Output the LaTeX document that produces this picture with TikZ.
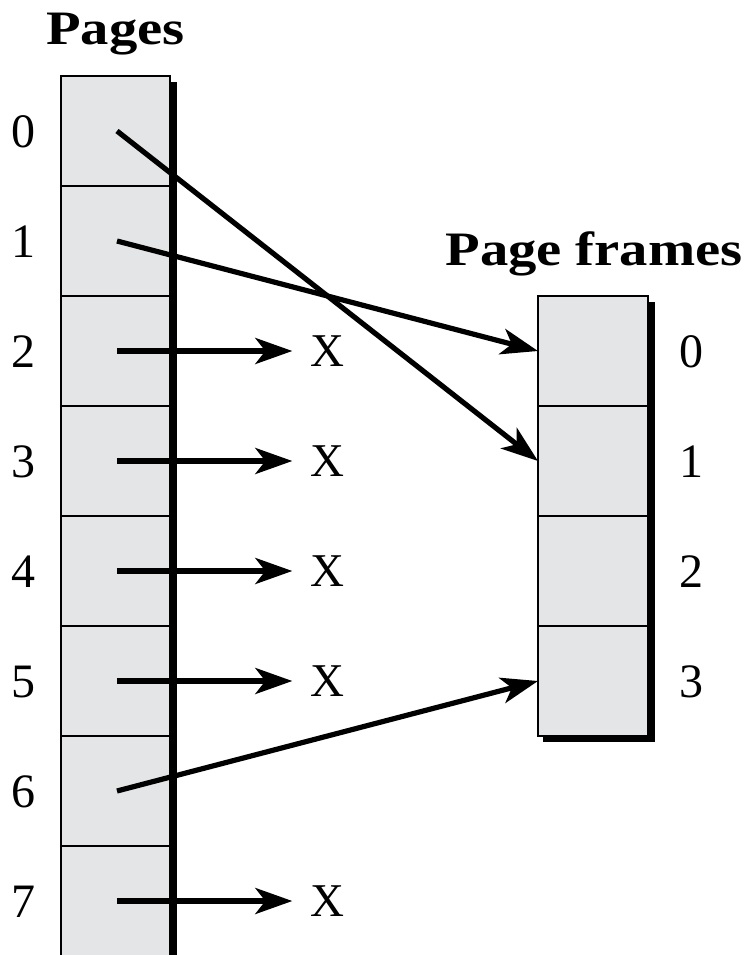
\documentclass[tikz,border=0pt]{standalone}
\usepackage{fontspec}
\setmainfont{Liberation Serif}
\newfontfamily\headfont[FakeStretch=1.18]{Liberation Serif}
\usetikzlibrary{arrows.meta}
\definecolor{cellgray}{HTML}{E4E5E7}
\tikzset{
  cell/.style={draw=black, line width=2pt, fill=cellgray, minimum width=109pt, minimum height=110pt, inner sep=0pt, outer sep=0pt},
  shadowbox/.style={fill=black},
  lbl/.style={font=\fontsize{48}{52}\selectfont, inner sep=0pt},
  head/.style={font=\headfont\bfseries\fontsize{48}{52}\selectfont, inner sep=0pt, anchor=base},
  xlbl/.style={font=\fontsize{47}{52}\selectfont, inner xsep=18pt, inner ysep=0pt},
  ptr/.style={line width=5.2pt, -{Stealth[length=37pt,width=26pt,inset=10pt]}}
}
\begin{document}
\begin{tikzpicture}[x=1pt,y=-1pt]
\useasboundingbox (0,0) rectangle (748,955);
% shadows
\fill[shadowbox] (170,82) rectangle (177,960);
\fill[shadowbox] (543,302) rectangle (655,742);
% page cells
\foreach \i in {0,...,7} {
  \node[cell] (p\i) at (115.5,{131+110*\i}) {};
  \node[lbl] (n\i) at (24,{132+110*\i}) {\i};
}
% frame cells
\foreach \j in {0,...,3} {
  \node[cell, minimum width=110pt] (f\j) at (593,{351+110*\j}) {};
  \node[lbl] (m\j) at (691,{352+110*\j}) {\j};
}
% headings
\node[head] (hp) at (115.5,45) {Pages};
\node[head] (hf) at (594,265) {Page frames};
% X labels
\foreach \i in {2,3,4,5,7} {
  \node[xlbl] (x\i) at (327.5,{131+110*\i}) {X};
  \draw[ptr] ([xshift=1.5pt]p\i.center) -- (x\i.west);
}
% mapped pages
\draw[ptr] ([xshift=1.5pt]p0.center) -- (f1.west);
\draw[ptr] ([xshift=1.5pt]p1.center) -- (f0.west);
\draw[ptr] ([xshift=1.5pt]p6.center) -- (f3.west);
\end{tikzpicture}
\end{document}
